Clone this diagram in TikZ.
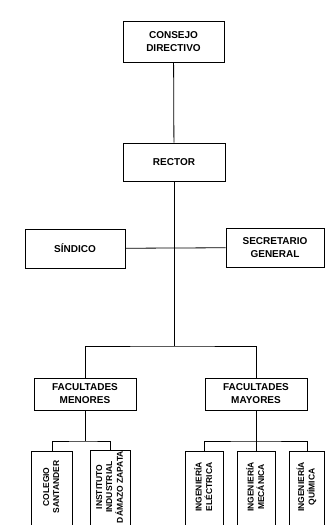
\documentclass[tikz,border=0pt]{standalone}
\usepackage{fontspec}
\setmainfont{Liberation Sans}
\usepackage{graphicx}
\begin{document}
\begin{tikzpicture}[x=1pt,y=-1pt,
  box/.style={draw,line width=0.9pt,align=center,inner sep=0pt,
    font=\fontsize{10}{13}\selectfont\bfseries},
  vbox/.style={inner sep=0pt,minimum width=#1,minimum height=70,
    font=\fontsize{8.5}{10}\selectfont\bfseries},
  link/.style={line width=0.8pt}]
\useasboundingbox[fill=white] (0,0) rectangle (325,525);
\clip (0,0) rectangle (325,525);
\node[box,minimum width=101,minimum height=41] (consejo) at (173.5,41.5) {CONSEJO\\DIRECTIVO};
\node[box,minimum width=102,minimum height=38] (rector) at (174,162) {RECTOR};
\node[box,minimum width=100,minimum height=39] (sindico) at (75,248.5) {SÍNDICO};
\node[box,minimum width=98,minimum height=39] (secre) at (275,247.5) {SECRETARIO\\GENERAL};
\node[box,minimum width=102,minimum height=32] (menores) at (85,394) {FACULTADES\\MENORES};
\node[box,minimum width=102,minimum height=32] (mayores) at (256,394) {FACULTADES\\MAYORES};

\node[vbox=40] (colegio) at (52,487) {\rotatebox{90}{\begin{tabular}{@{}c@{}}COLEGIO\\SANTANDER\end{tabular}}};
\node[vbox=39] (instituto) at (110.5,487) {\rotatebox{90}{\begin{tabular}{@{}c@{}}INSTITUTO\\INDUSTRIAL\\DÁMAZO ZAPATA\end{tabular}}};
\node[vbox=37] (electrica) at (204.5,487) {\rotatebox{90}{\begin{tabular}{@{}c@{}}INGENIERÍA\\ELÉCTRICA\end{tabular}}};
\node[vbox=37] (mecanica) at (256.5,487) {\rotatebox{90}{\begin{tabular}{@{}c@{}}INGENIERÍA\\MECÁNICA\end{tabular}}};
\node[vbox=35] (quimica) at (307,487) {\rotatebox{90}{\begin{tabular}{@{}c@{}}INGENIERÍA\\QUÍMICA\end{tabular}}};
\foreach \n in {colegio,instituto,electrica,mecanica,quimica}{
  \draw[line width=0.9pt] ([yshift=-15pt]\n.south west) -- (\n.north west) -- (\n.north east) -- ([yshift=-15pt]\n.south east);
}

\coordinate (c2) at (174,346);
\coordinate (yl) at (0,441);
\coordinate (mj) at (menores.south |- yl);
\coordinate (Mj) at (mayores.south |- yl);

\draw[link] (consejo) -- (rector);
\draw[link] (rector) -- (c2);
\draw[link] (sindico) -- (secre);
\draw[link] (menores.north) |- (c2) -| (mayores.north);
\draw[link] (menores.south) -- (mj);
\draw[link] (colegio.north) |- (mj) -| (instituto.north);
\draw[link] (mayores.south) -- (Mj);
\draw[link] (electrica.north) |- (Mj) -| (quimica.north);
\draw[link] (mecanica.north) -- (mecanica.north |- Mj);
\end{tikzpicture}
\end{document}
